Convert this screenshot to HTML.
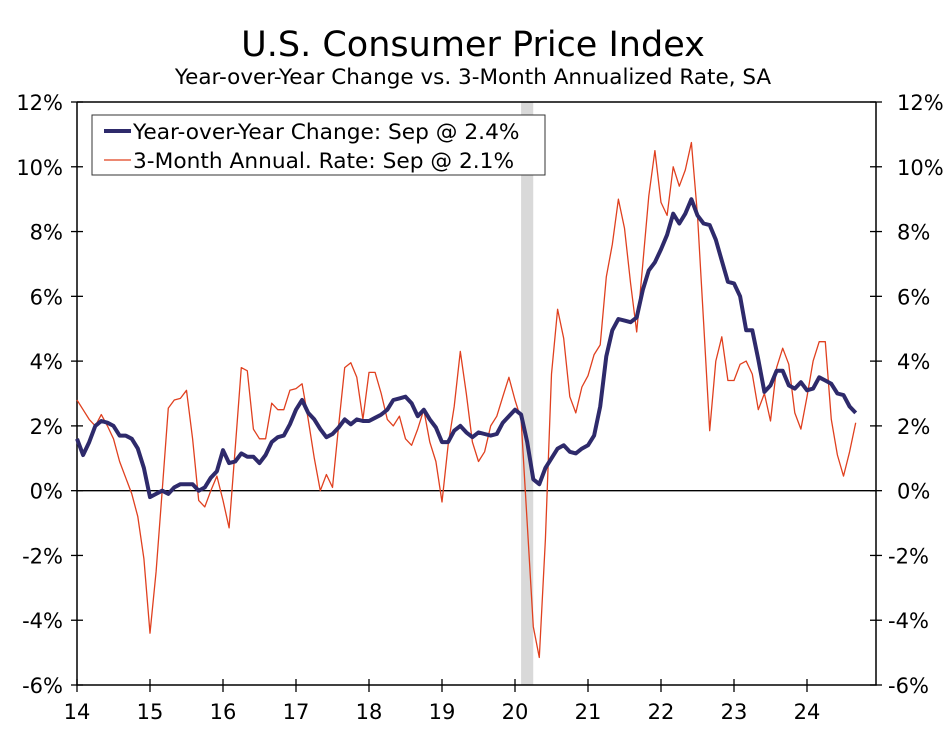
<!DOCTYPE html>
<html><head><meta charset="utf-8">
<style>
body{margin:0;background:#fff;}
svg text{font-family:"DejaVu Sans","Liberation Sans",sans-serif;fill:#000;}
</style></head>
<body>
<svg id="chart" width="947" height="727" viewBox="0 0 947 727" xmlns="http://www.w3.org/2000/svg">
<text x="473" y="56" font-size="35" text-anchor="middle">U.S. Consumer Price Index</text>
<text x="473" y="84" font-size="21.5" text-anchor="middle">Year-over-Year Change vs. 3-Month Annualized Rate, SA</text>
<g id="plot"></g>
</svg>
<script>
const yoyValues = [
1.6,1.1,1.5,2.0,2.15,2.1,2.0,1.7,1.7,1.6,1.3,0.7,
-0.2,-0.1,0.0,-0.1,0.1,0.2,0.2,0.2,0.0,0.1,0.4,0.6,
1.25,0.85,0.9,1.15,1.05,1.05,0.85,1.1,1.5,1.65,1.7,2.05,
2.5,2.8,2.4,2.2,1.9,1.65,1.75,1.95,2.2,2.05,2.2,2.15,
2.15,2.25,2.35,2.5,2.8,2.85,2.9,2.7,2.3,2.5,2.2,1.95,
1.5,1.5,1.85,2.0,1.8,1.65,1.8,1.75,1.7,1.75,2.1,2.3,
2.5,2.35,1.5,0.35,0.2,0.7,1.0,1.3,1.4,1.2,1.15,1.3,
1.4,1.7,2.6,4.15,4.95,5.3,5.25,5.2,5.35,6.2,6.8,7.05,
7.45,7.9,8.55,8.25,8.55,9.0,8.5,8.25,8.2,7.75,7.1,6.45,
6.4,6.0,4.95,4.95,4.05,3.05,3.25,3.7,3.7,3.25,3.15,3.35,
3.1,3.15,3.5,3.4,3.3,3.0,2.95,2.6,2.4];
const annValues = [
2.8,2.5,2.2,2.0,2.35,2.0,1.6,0.9,0.4,-0.1,-0.8,-2.1,
-4.4,-2.5,0.0,2.55,2.8,2.85,3.1,1.6,-0.3,-0.5,0.0,0.45,
-0.3,-1.15,1.3,3.8,3.7,1.9,1.6,1.6,2.7,2.5,2.5,3.1,
3.15,3.3,2.2,1.0,0.0,0.5,0.1,2.0,3.8,3.95,3.5,2.2,
3.65,3.65,3.0,2.2,2.0,2.3,1.6,1.4,1.9,2.5,1.5,0.9,
-0.35,1.4,2.6,4.3,3.0,1.5,0.9,1.2,2.0,2.3,2.9,3.5,
2.8,2.2,-1.0,-4.2,-5.15,-1.5,3.6,5.6,4.7,2.9,2.4,3.2,
3.55,4.2,4.5,6.6,7.6,9.0,8.1,6.4,4.9,7.0,9.1,10.5,
8.9,8.5,10.0,9.4,9.9,10.75,8.5,5.2,1.85,4.0,4.75,3.4,
3.4,3.9,4.0,3.6,2.5,3.0,2.15,3.8,4.4,3.9,2.4,1.9,
2.9,4.0,4.6,4.6,2.2,1.1,0.45,1.2,2.1];
const yTicks = [12,10,8,6,4,2,0,-2,-4,-6];
const xTickLabels = ["14","15","16","17","18","19","20","21","22","23","24"];
const recession = [2020+1/12, 2020+3/12];

const NS="http://www.w3.org/2000/svg";
const plot=document.getElementById('plot');
const L=77,R=876,T=102,B=685,y0=2014,yMin=-6,yMax=12;
const xs=t=>L+(t-y0)*73;
const ys=v=>B-(v-yMin)/(yMax-yMin)*(B-T);
function mk(tag,attrs,parent){const e=document.createElementNS(NS,tag);for(const k in attrs)e.setAttribute(k,attrs[k]);(parent||plot).appendChild(e);return e;}

let r=mk('rect',{x:xs(recession[0]),y:T,width:xs(recession[1])-xs(recession[0]),height:B-T,fill:'#d9d9d9'});



let f=mk('path',{d:`M${L},${T}H${R}M${L},${T}V${B}H${R}V${T}`,stroke:'#000','stroke-width':1.5,fill:'none'});


let z=mk('line',{x1:L,x2:R,y1:ys(0),y2:ys(0),stroke:'#000','stroke-width':1.3});



yTicks.forEach(v=>{
  const y=ys(v);
  mk('line',{x1:L-6,x2:L+6,y1:y,y2:y,stroke:'#000','stroke-width':1.3});
  mk('line',{x1:R-6,x2:R+6,y1:y,y2:y,stroke:'#000','stroke-width':1.3});
  let a=mk('text',{x:63,y:y+8,'font-size':21,'text-anchor':'end'});a.textContent=v+'%';
  
  
  let b=mk('text',{x:v<0?888:897,y:y+8,'font-size':21,'text-anchor':'start'});b.textContent=v+'%';
  
  
});
xTickLabels.forEach((s,i)=>{
  const x=xs(y0+i);
  mk('line',{x1:x,x2:x,y1:B-6,y2:B+7,stroke:'#000','stroke-width':1.3});
  let t=mk('text',{x:x,y:B+34,'font-size':21,'text-anchor':'middle'});t.textContent=s;
  
  
});
function linePath(vals){return vals.map((v,i)=>(i?'L':'M')+xs(y0+i/12).toFixed(1)+','+ys(v).toFixed(1)).join('');}
let p2=mk('path',{d:linePath(annValues),stroke:'#e0401f','stroke-width':1.3,fill:'none','stroke-linejoin':'round'});


let p1=mk('path',{d:linePath(yoyValues),stroke:'#2e2a6b','stroke-width':4,fill:'none','stroke-linejoin':'round'});



let lg=mk('g',{});


mk('rect',{x:92,y:115,width:453,height:60,fill:'#fff',stroke:'#333','stroke-width':1},lg);
mk('line',{x1:104,x2:131,y1:131,y2:131,stroke:'#2e2a6b','stroke-width':4},lg);
let t1=mk('text',{x:133,y:139,'font-size':21.7},lg);t1.textContent='Year-over-Year Change: Sep @ 2.4%';


mk('line',{x1:104,x2:131,y1:160,y2:160,stroke:'#e0401f','stroke-width':1.3},lg);
let t2=mk('text',{x:133,y:168,'font-size':21.7},lg);t2.textContent='3-Month Annual. Rate: Sep @ 2.1%';


</script>
</body></html>
